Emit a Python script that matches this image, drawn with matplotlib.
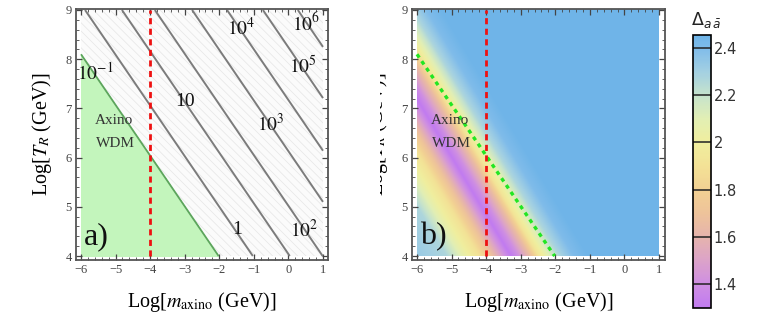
import numpy as np
import matplotlib.pyplot as plt
from matplotlib.colors import LinearSegmentedColormap, Normalize
from matplotlib.patches import Rectangle
from matplotlib.ticker import MultipleLocator, AutoMinorLocator

plt.rcParams['font.family'] = ['Liberation Serif', 'DejaVu Serif']
plt.rcParams['mathtext.fontset'] = 'stix'
plt.rcParams['hatch.linewidth'] = 0.5

# plotting range (log10 of axino mass and reheating temperature)
m_range = [-6, 1]
T_range = [4, 9]
m_limit = -4

# panel a): lines of constant relic abundance, given by where they cross log m = -6
omega_T_at_m6 = [8.1, 9.12, 10.22, 11.2, 12.31, 13.35, 14.42, 15.46]
omega_slope = 1.03
omega_labels = [r'$10^{-1}$', '1', '10', r'$10^{2}$', r'$10^{3}$', r'$10^{4}$', r'$10^{5}$', r'$10^{6}$']
omega_label_m = [-5.6, -1.49, -3.0, 0.47, -0.51, -1.38, 0.42, 0.5]
omega_label_T = [7.72, 4.53, 7.13, 4.53, 6.68, 8.63, 7.86, 8.72]

# panel b): Delta profile across the band (u = log T + slope*(log m + 6))
band_slope = 1.17
band_u = [3.8, 5.0, 5.6, 6.1, 6.5, 6.9, 7.17, 7.42, 7.82, 8.12, 8.42, 8.82, 9.3, 9.8, 12.0]
band_delta = [2.34, 2.27, 2.05, 1.9, 1.7, 1.45, 1.3, 1.4, 1.65, 1.92, 2.08, 2.27, 2.4, 2.45, 2.45]

delta_min, delta_max = 1.298, 2.455
cbar_ticks = [1.4, 1.6, 1.8, 2.0, 2.2, 2.4]
cmap_vals = [1.298, 1.4, 1.5, 1.6, 1.7, 1.8, 1.9, 2.0, 2.1, 2.2, 2.3, 2.4, 2.455]
cmap_cols = ['#c17bf0', '#cf8fe2', '#dca3c8', '#e6b4ac', '#eec39a', '#f2d193', '#f3e296',
             '#f0ee9e', '#e2efb4', '#c6e3cc', '#a3d0e2', '#80bcea', '#6eb4e8']

pos = [(v - delta_min) / (delta_max - delta_min) for v in cmap_vals]
cmap = LinearSegmentedColormap.from_list('pastel', list(zip(pos, cmap_cols)))
norm = Normalize(delta_min, delta_max)

W, H = 763, 316
fig = plt.figure(figsize=(W / 100, H / 100), dpi=100)
ax1 = fig.add_axes([76 / W, 56 / H, 252 / W, 251 / H])
ax2 = fig.add_axes([412 / W, 56 / H, 253 / W, 251 / H])
cax = fig.add_axes([693 / W, 8 / H, 18 / W, 273 / H])

mm, tt = np.meshgrid(np.linspace(*m_range, 500), np.linspace(*T_range, 400))
omega_field = tt + omega_slope * (mm + 6)
delta_field = np.interp(tt + band_slope * (mm + 6), band_u, band_delta)


def frame(ax, xmax):
	ax.set_xlim(-6.145, xmax)
	ax.set_ylim(3.919, 9.02)
	ax.xaxis.set_major_locator(MultipleLocator(1))
	ax.yaxis.set_major_locator(MultipleLocator(1))
	ax.xaxis.set_minor_locator(AutoMinorLocator(5))
	ax.yaxis.set_minor_locator(AutoMinorLocator(5))
	ax.tick_params(which='both', direction='in', top=True, right=True, color='#444',
		labelsize=9, labelcolor='#444', pad=3)
	ax.tick_params(which='major', length=4, width=0.9)
	ax.tick_params(which='minor', length=2, width=0.6)
	for s in ax.spines.values():
		s.set_color('#555')
		s.set_linewidth(1.3)
	ax.set_xlabel(r'Log[$m_{\mathrm{axino}}$ (GeV)]', fontsize=14.5, va='top')
	ax.set_ylabel(r'Log[$T_R$ (GeV)]', fontsize=14.5)
	ax.xaxis.set_label_coords(0.5, -0.118)
	ax.yaxis.set_label_coords(-0.088, 0.5)
	ax.text(-5.05, 6.76, 'Axino', fontsize=11, color='#333', ha='center', va='center')
	ax.text(-5.0, 6.28, 'WDM', fontsize=11, color='#333', ha='center', va='center')


# panel a)
ax1.add_patch(Rectangle((m_range[0], T_range[0]), m_range[1] - m_range[0], T_range[1] - T_range[0],
	facecolor='#fbfbfb', edgecolor='#e6e6e6', hatch='\\\\\\\\', lw=0, zorder=0))
ax1.contourf(mm, tt, omega_field, levels=[0, omega_T_at_m6[0]], colors=['#c3f5bc'], zorder=1)
ax1.contour(mm, tt, omega_field, levels=[omega_T_at_m6[0]], colors=['#5da55d'], linewidths=1.3, zorder=2)
ax1.contour(mm, tt, omega_field, levels=omega_T_at_m6[1:], colors='#7c7c7c', linewidths=1.4, zorder=2)
for lab, xm, yt in zip(omega_labels, omega_label_m, omega_label_T):
	ax1.text(xm, yt, lab, fontsize=14, ha='center', va='center', color='#111', zorder=4)
ax1.vlines(m_limit, *T_range, colors='#ee1111', linestyles=(0, (2.2, 1.6)), linewidth=2, zorder=3)
ax1.text(-5.55, 4.4, 'a)', fontsize=23, ha='center', va='center', color='#111', zorder=4)
frame(ax1, 1.145)

# panel b)
ax2.imshow(delta_field, extent=m_range + T_range, origin='lower', aspect='auto',
	cmap=cmap, norm=norm, interpolation='bilinear', zorder=0)
m_wdm = np.array([m_range[0], m_range[0] + (omega_T_at_m6[0] - T_range[0]) / omega_slope])
ax2.plot(m_wdm, omega_T_at_m6[0] - omega_slope * (m_wdm + 6), color='#22e622',
	linestyle=(0, (1.2, 1.3)), linewidth=2.4, zorder=2)
ax2.vlines(m_limit, *T_range, colors='#ee1111', linestyles=(0, (2.2, 1.6)), linewidth=2, zorder=3)
ax2.text(-5.53, 4.4, 'b)', fontsize=23, ha='center', va='center', color='#111', zorder=4)
frame(ax2, 1.174)

# colour bar
sm = plt.cm.ScalarMappable(norm=norm, cmap=cmap)
cb = fig.colorbar(sm, cax=cax, ticks=cbar_ticks)
cb.outline.set_edgecolor('black')
cb.outline.set_linewidth(1.2)
for t in cbar_ticks:
	cax.axhline(t, color='#222', linewidth=1.1)
cax.tick_params(length=0, pad=2, labelsize=10.5, labelcolor='#333')
cax.set_yticklabels(['1.4', '1.6', '1.8', '2', '2.2', '2.4'], family='DejaVu Sans')
fig.text(706 / W, 1 - 20 / H, r'$\Delta_{a\,\bar{a}}$', fontsize=12.5, ha='center', va='center',
	math_fontfamily='dejavusans', color='#222')

# the right panel's y label is cut off where the two pictures were put side by side
fig.patches.append(Rectangle((335 / W, 0), 45 / W, 1, transform=fig.transFigure,
	facecolor='white', edgecolor='none', zorder=5))

fig.savefig('out.png', dpi=100)
